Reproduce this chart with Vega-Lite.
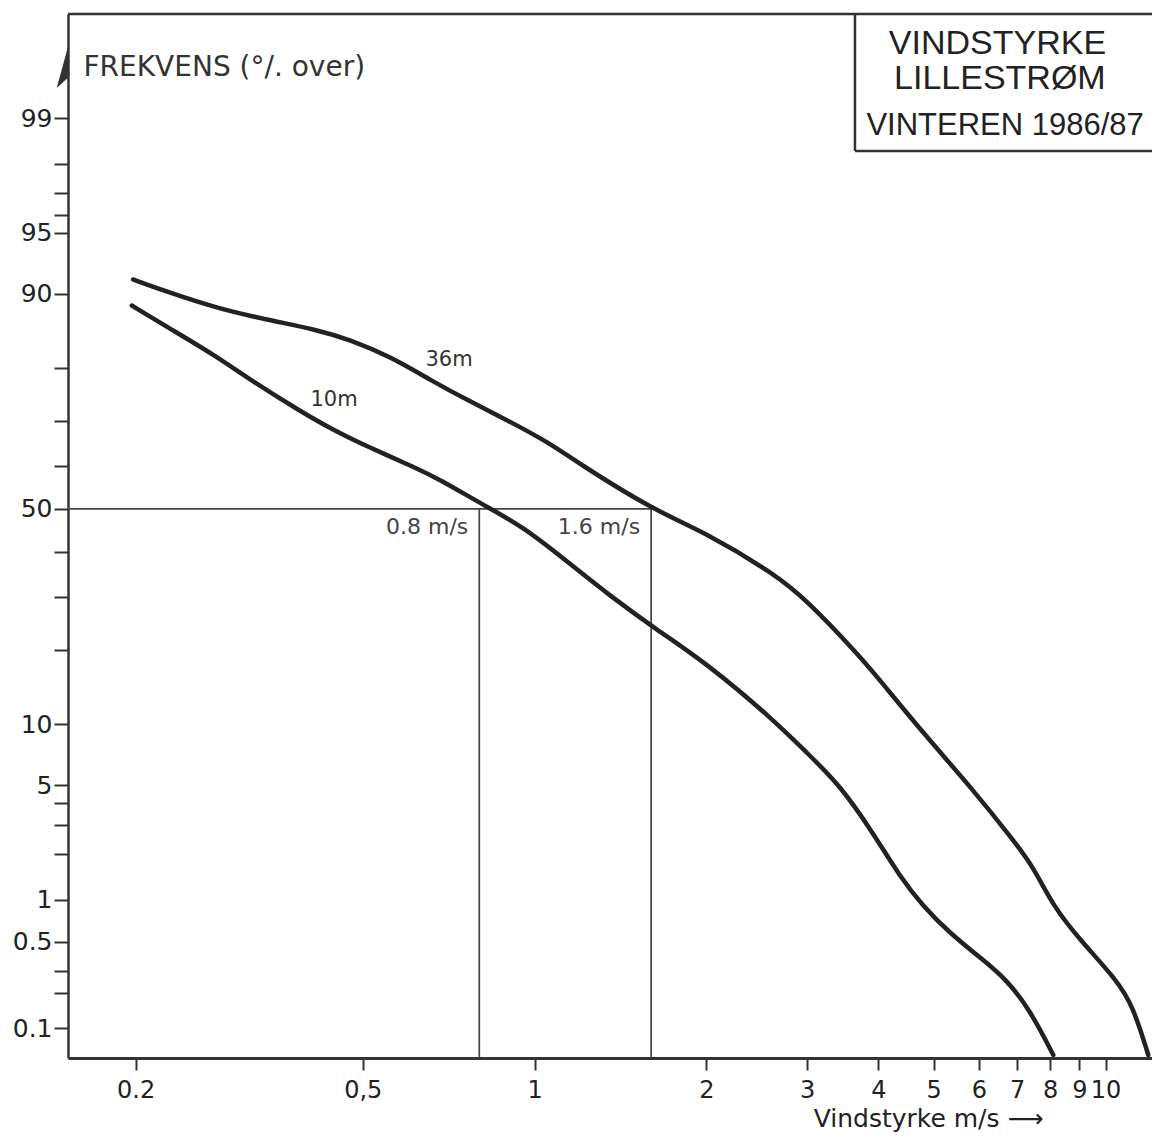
{
  "$schema": "https://vega.github.io/schema/vega-lite/v6.json",
  "width": 1084,
  "height": 1044,
  "autosize": {"type": "none"},
  "padding": {"left": 68, "top": 14, "right": 0, "bottom": 79},
  "background": "white",
  "config": {"view": {"stroke": null}, "font": "DejaVu Sans"},
  "data": {"values": [
    {"kind": "curve", "series": "36m", "v": 0.198, "pct": 91.4},
    {"kind": "curve", "series": "36m", "v": 0.2268, "pct": 90.2},
    {"kind": "curve", "series": "36m", "v": 0.2775, "pct": 88.4},
    {"kind": "curve", "series": "36m", "v": 0.3395, "pct": 87.0},
    {"kind": "curve", "series": "36m", "v": 0.4154, "pct": 85.7},
    {"kind": "curve", "series": "36m", "v": 0.4751, "pct": 84.3},
    {"kind": "curve", "series": "36m", "v": 0.5582, "pct": 81.8},
    {"kind": "curve", "series": "36m", "v": 0.6638, "pct": 77.6},
    {"kind": "curve", "series": "36m", "v": 0.7604, "pct": 74.2},
    {"kind": "curve", "series": "36m", "v": 0.8936, "pct": 70.2},
    {"kind": "curve", "series": "36m", "v": 1.064, "pct": 65.2},
    {"kind": "curve", "series": "36m", "v": 1.169, "pct": 61.5},
    {"kind": "curve", "series": "36m", "v": 1.6, "pct": 50.0},
    {"kind": "curve", "series": "36m", "v": 2.002, "pct": 44.3},
    {"kind": "curve", "series": "36m", "v": 2.618, "pct": 35.1},
    {"kind": "curve", "series": "36m", "v": 2.996, "pct": 29.4},
    {"kind": "curve", "series": "36m", "v": 3.714, "pct": 19.0},
    {"kind": "curve", "series": "36m", "v": 4.026, "pct": 15.4},
    {"kind": "curve", "series": "36m", "v": 4.794, "pct": 9.1},
    {"kind": "curve", "series": "36m", "v": 5.866, "pct": 4.72},
    {"kind": "curve", "series": "36m", "v": 6.89, "pct": 2.44},
    {"kind": "curve", "series": "36m", "v": 7.47, "pct": 1.66},
    {"kind": "curve", "series": "36m", "v": 8.1, "pct": 0.9},
    {"kind": "curve", "series": "36m", "v": 9.02, "pct": 0.516},
    {"kind": "curve", "series": "36m", "v": 10.46, "pct": 0.253},
    {"kind": "curve", "series": "36m", "v": 11.18, "pct": 0.153},
    {"kind": "curve", "series": "36m", "v": 11.88, "pct": 0.0577},
    {"kind": "curve", "series": "10m", "v": 0.197, "pct": 88.7},
    {"kind": "curve", "series": "10m", "v": 0.2268, "pct": 86.1},
    {"kind": "curve", "series": "10m", "v": 0.2775, "pct": 81.8},
    {"kind": "curve", "series": "10m", "v": 0.3174, "pct": 77.9},
    {"kind": "curve", "series": "10m", "v": 0.3882, "pct": 72.0},
    {"kind": "curve", "series": "10m", "v": 0.4435, "pct": 68.1},
    {"kind": "curve", "series": "10m", "v": 0.5082, "pct": 64.5},
    {"kind": "curve", "series": "10m", "v": 0.6216, "pct": 59.6},
    {"kind": "curve", "series": "10m", "v": 0.683, "pct": 56.9},
    {"kind": "curve", "series": "10m", "v": 0.813, "pct": 50.95},
    {"kind": "curve", "series": "10m", "v": 0.9556, "pct": 45.8},
    {"kind": "curve", "series": "10m", "v": 1.169, "pct": 36.6},
    {"kind": "curve", "series": "10m", "v": 1.337, "pct": 30.8},
    {"kind": "curve", "series": "10m", "v": 1.636, "pct": 23.6},
    {"kind": "curve", "series": "10m", "v": 2.002, "pct": 17.9},
    {"kind": "curve", "series": "10m", "v": 2.618, "pct": 10.5},
    {"kind": "curve", "series": "10m", "v": 2.988, "pct": 7.4},
    {"kind": "curve", "series": "10m", "v": 3.426, "pct": 5.02},
    {"kind": "curve", "series": "10m", "v": 3.918, "pct": 2.68},
    {"kind": "curve", "series": "10m", "v": 4.364, "pct": 1.43},
    {"kind": "curve", "series": "10m", "v": 4.794, "pct": 0.9},
    {"kind": "curve", "series": "10m", "v": 5.338, "pct": 0.578},
    {"kind": "curve", "series": "10m", "v": 6.106, "pct": 0.363},
    {"kind": "curve", "series": "10m", "v": 6.714, "pct": 0.253},
    {"kind": "curve", "series": "10m", "v": 7.374, "pct": 0.143},
    {"kind": "curve", "series": "10m", "v": 8.1, "pct": 0.0577},
    {"kind": "ref", "v": 0.8, "v2": 0.8, "pct": 50, "pct2": 0.0541},
    {"kind": "ref", "v": 1.6, "v2": 1.6, "pct": 50, "pct2": 0.0541},
    {"kind": "ref", "v": 0.1523, "v2": 1.6, "pct": 50, "pct2": 50},
    {"kind": "frame", "v": 0.1523, "v2": 12.06, "pct": 99.839, "pct2": 99.839},
    {"kind": "frame", "v": 3.64, "v2": 3.64, "pct": 98.346, "pct2": 99.839},
    {"kind": "frame", "v": 3.64, "v2": 12.06, "pct": 98.346, "pct2": 98.346},
    {"kind": "clabel", "label": "36m", "v": 0.708, "pct": 81.24},
    {"kind": "clabel", "label": "10m", "v": 0.4454, "pct": 74.18},
    {"kind": "rlabel", "label": "0.8 m/s", "v": 0.8, "pct": 50},
    {"kind": "rlabel", "label": "1.6 m/s", "v": 1.6, "pct": 50},
    {"kind": "title", "label": "VINDSTYRKE", "v": 6.466, "pct": 99.718},
    {"kind": "title", "label": "LILLESTRØM", "v": 6.53, "pct": 99.476},
    {"kind": "title3", "label": "VINTEREN 1986/87", "v": 6.67, "pct": 98.869},
    {"kind": "arrow", "v": 0.1523, "pct": 99.571}
  ]},
  "transform": [
    {"calculate": "quantileNormal(datum.pct / 100)", "as": "z"},
    {"calculate": "isValid(datum.pct2) ? quantileNormal(datum.pct2 / 100) : null", "as": "z2"}
  ],
  "encoding": {
    "x": {
      "field": "v", "type": "quantitative",
      "scale": {"type": "log", "domain": [0.1523, 12.06], "nice": false},
      "axis": {
        "orient": "bottom",
        "values": [0.2, 0.5, 1, 2, 3, 4, 5, 6, 7, 8, 9, 10],
        "labelExpr": "datum.value == 0.5 ? '0,5' : format(datum.value, '~g')",
        "grid": false,
        "domainColor": "#333", "domainWidth": 3,
        "tickColor": "#333", "tickWidth": 2, "tickSize": 12,
        "labelFont": "DejaVu Sans", "labelFontSize": 24, "labelColor": "#222",
        "labelPadding": 8, "labelFlush": false, "labelOverlap": false, "labelBound": false,
        "title": "Vindstyrke  m/s ⟶",
        "titleFont": "DejaVu Sans", "titleFontSize": 25, "titleFontWeight": "normal", "titleColor": "#222",
        "titleX": 860, "titleY": 60, "titleAlign": "center", "titleBaseline": "middle", "titleAnchor": null
      }
    },
    "y": {
      "field": "z", "type": "quantitative",
      "scale": {"domain": [-3.268, 2.946], "nice": false, "zero": false},
      "axis": {
        "orient": "left",
        "values": [2.3263, 2.0537, 1.8808, 1.7507, 1.6449, 1.2816, 0.8416, 0.5244, 0.2533, 0, -0.2533, -0.5244, -0.8416, -1.2816, -1.6449, -1.7507, -1.8808, -2.0537, -2.3263, -2.5758, -2.7478, -2.8782, -3.0902],
        "labelExpr": "indexof([99, 95, 90, 50, 10, 5, 1, 0.5, 0.1], round(cumulativeNormal(datum.value) * 1000) / 10) >= 0 ? format(round(cumulativeNormal(datum.value) * 1000) / 10, '~g') : ''",
        "grid": false,
        "domainColor": "#333", "domainWidth": 2.5,
        "tickColor": "#333", "tickWidth": 2, "tickSize": 14,
        "labelFont": "DejaVu Sans", "labelFontSize": 25, "labelColor": "#222",
        "labelPadding": 2, "labelFlush": false, "labelOverlap": false, "labelBound": false,
        "title": "FREKVENS (°/. over)",
        "titleFont": "DejaVu Sans", "titleFontSize": 28, "titleFontWeight": "normal", "titleColor": "#333",
        "titleAngle": 0, "titleX": 15, "titleY": 53, "titleAlign": "left", "titleBaseline": "middle", "titleAnchor": null
      }
    }
  },
  "layer": [
    {
      "transform": [{"filter": "datum.kind === 'frame'"}],
      "mark": {"type": "rule", "stroke": "#333", "strokeWidth": 2.5},
      "encoding": {"x2": {"field": "v2"}, "y2": {"field": "z2"}}
    },
    {
      "transform": [{"filter": "datum.kind === 'ref'"}],
      "mark": {"type": "rule", "stroke": "#444", "strokeWidth": 1.7},
      "encoding": {"x2": {"field": "v2"}, "y2": {"field": "z2"}}
    },
    {
      "transform": [{"filter": "datum.kind === 'curve'"}],
      "mark": {"type": "line", "interpolate": "basis", "stroke": "#222", "strokeWidth": 4.5, "strokeCap": "round", "strokeJoin": "round"},
      "encoding": {"detail": {"field": "series"}}
    },
    {
      "transform": [{"filter": "datum.kind === 'clabel'"}],
      "mark": {"type": "text", "font": "DejaVu Sans", "fontSize": 21, "color": "#333", "align": "center", "baseline": "middle"},
      "encoding": {"text": {"field": "label"}}
    },
    {
      "transform": [{"filter": "datum.kind === 'rlabel'"}],
      "mark": {"type": "text", "font": "DejaVu Sans", "fontSize": 22, "color": "#444", "align": "right", "baseline": "middle", "dx": -11, "dy": 18},
      "encoding": {"text": {"field": "label"}}
    },
    {
      "transform": [{"filter": "datum.kind === 'title'"}],
      "mark": {"type": "text", "font": "Liberation Sans", "fontSize": 34, "color": "#222", "align": "center", "baseline": "middle"},
      "encoding": {"text": {"field": "label"}}
    },
    {
      "transform": [{"filter": "datum.kind === 'title3'"}],
      "mark": {"type": "text", "font": "Liberation Sans", "fontSize": 31, "color": "#222", "align": "center", "baseline": "middle"},
      "encoding": {"text": {"field": "label"}}
    },
    {
      "transform": [{"filter": "datum.kind === 'arrow'"}],
      "mark": {"type": "point", "shape": "M0,-1L-0.55,1L0,0.5Z", "filled": true, "size": 1700, "color": "#333", "opacity": 1},
      "encoding": {}
    }
  ]
}
